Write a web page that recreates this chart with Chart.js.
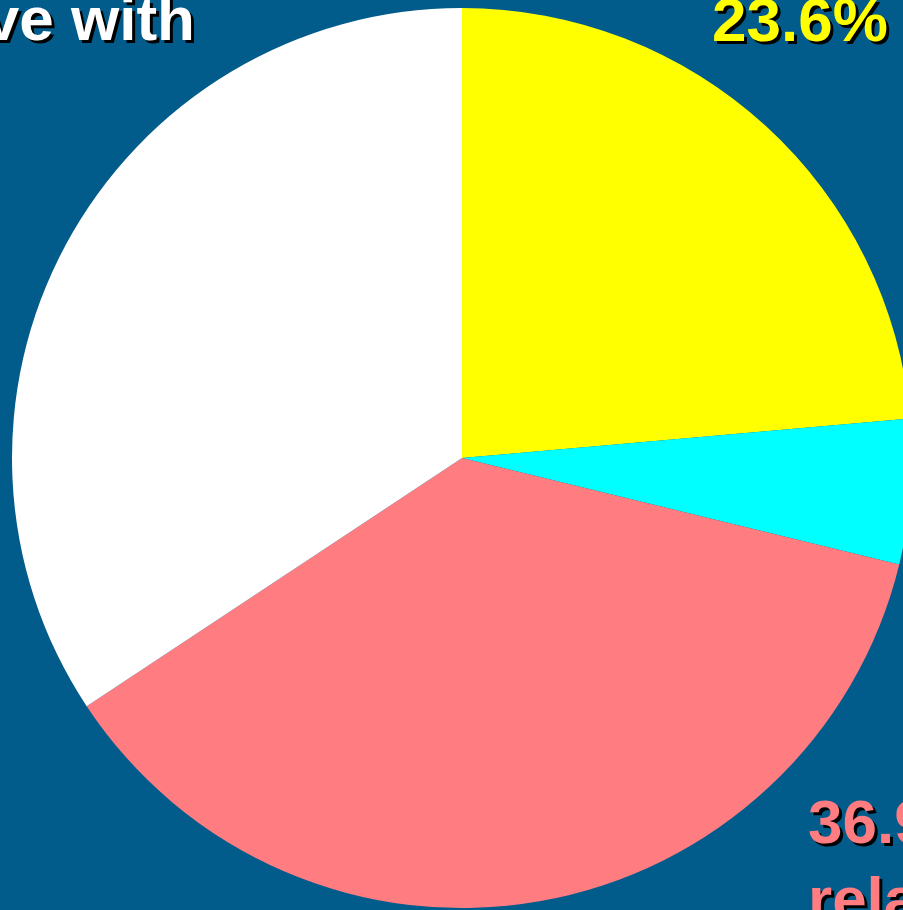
<!DOCTYPE html>
<html>
<head>
<meta charset="utf-8">
<script src="https://cdn.jsdelivr.net/npm/chart.js@4"></script>
<style>
  html, body { margin: 0; padding: 0; }
  body {
    width: 903px; height: 910px; overflow: hidden; position: relative;
    background: #025c8b;
    font-family: "Liberation Sans", Arial, sans-serif; font-weight: bold;
  }
  #wrap { position: absolute; left: 0; top: 0; width: 924px; height: 916px; }
  .lbl {
    position: absolute; font-size: 62px; line-height: 62px; white-space: nowrap;
    text-shadow: 3px 3px 0 #000;
  }
</style>
</head>
<body>
<div id="wrap"><canvas id="myChart"></canvas></div>
<div class="lbl" id="lblWhite" style="right:708px; top:-12px; color:#fff;"></div>
<div class="lbl" id="lblYellow" style="left:712px; top:-11px; color:#ffff00;"></div>
<div class="lbl" id="lblPink" style="left:808px; top:783px; line-height:77px; color:#ff7c80;"></div>
<script>
const labels = ['Yellow', 'Cyan', 'Pink', 'White'];
const values = [23.6, 5.2, 36.9, 34.3];
const colors = ['#ffff00', '#00ffff', '#ff7c80', '#ffffff'];

// visible parts of the label texts (cut off by the frame)
document.querySelector('#lblWhite').textContent = 've with';
document.querySelector('#lblYellow').textContent = values[0] + '%';
document.querySelector('#lblPink').innerHTML = values[2] + '%<br>related';

const ctx = document.getElementById('myChart').getContext('2d');
const myChart = new Chart(ctx, {
  type: 'pie',
  data: {
    labels: labels,
    datasets: [{
      data: values,
      backgroundColor: colors,
      borderWidth: 0
    }]
  },
  options: {
    responsive: true,
    maintainAspectRatio: false,
    animation: false,
    layout: { padding: 8 },
    plugins: { legend: { display: false }, tooltip: { enabled: false } }
  }
});
</script>
</body>
</html>
